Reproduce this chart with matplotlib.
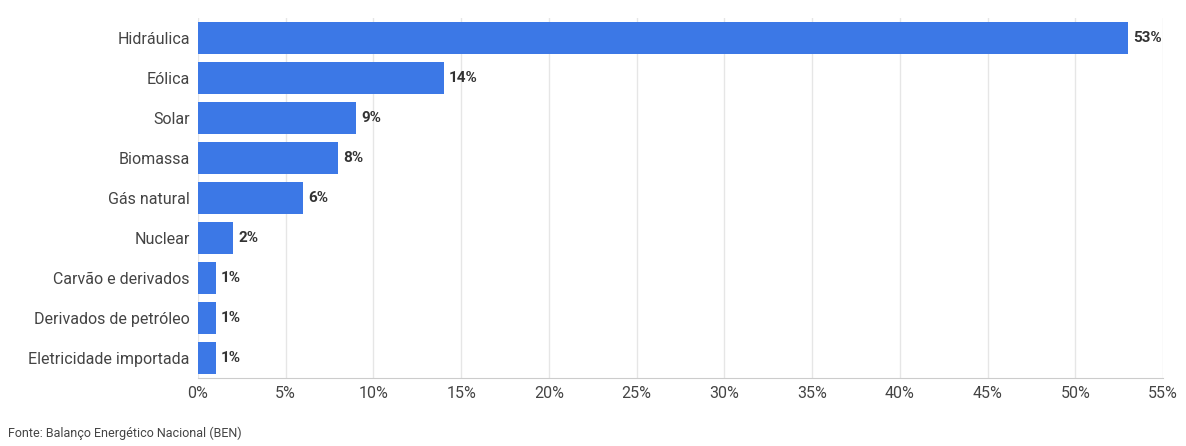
import matplotlib.pyplot as plt

categorias = ['Hidráulica', 'Eólica', 'Solar', 'Biomassa', 'Gás natural', 'Nuclear',
              'Carvão e derivados', 'Derivados de petróleo', 'Eletricidade importada']
valores = [53, 14, 9, 8, 6, 2, 1, 1, 1]
ticks = [0, 5, 10, 15, 20, 25, 30, 35, 40, 45, 50, 55]

plt.rcParams['font.family'] = ['Roboto', 'DejaVu Sans']

fig = plt.figure(figsize=(11.86, 4.46), dpi=100)
ax = fig.add_axes([198 / 1186, 1 - 378 / 446, 965 / 1186, 360 / 446])

y = list(range(len(categorias)))
ax.barh(y, valores, height=0.78, color='#3c78e6', zorder=3)
for yi, v in zip(y, valores):
    ax.text(v + 0.3, yi, f'{v}%', va='center', ha='left', fontsize=11,
            fontweight='bold', color='#333333')

ax.set_ylim(len(categorias) - 0.5, -0.5)
ax.set_xlim(0, 55)
ax.set_yticks(y)
ax.set_yticklabels(categorias, fontsize=11.5, color='#444444')
ax.set_xticks(ticks)
ax.set_xticklabels([f'{t}%' for t in ticks], fontsize=11.5, color='#444444')
ax.tick_params(axis='both', length=0, pad=6)
ax.grid(axis='x', color='#e6e6e6', linewidth=1, zorder=0)
for s in ['top', 'right', 'left']:
    ax.spines[s].set_visible(False)
ax.spines['bottom'].set_color('#cccccc')

fig.text(8 / 1186, 1 - 433 / 446, 'Fonte: Balanço Energético Nacional (BEN)', fontsize=9,
         color='#444444', va='center')

fig.savefig('out.png', dpi=100)
